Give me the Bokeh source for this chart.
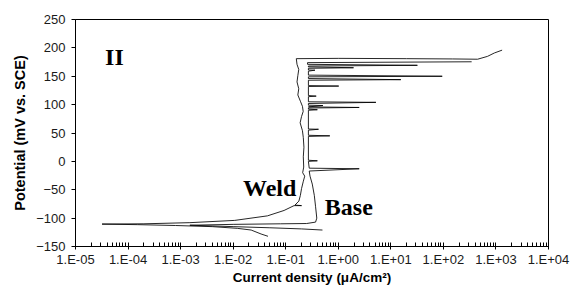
from bokeh.plotting import figure
from bokeh.models import FixedTicker, CustomJSTickFormatter, Range1d, Label
from bokeh.embed import file_html
from bokeh.resources import INLINE

# ---- data ----
weld_current = [0.046, 0.034, 0.022, 0.012, 0.004, 8e-4, 1.5e-4, 3.2e-5, 2e-4, 1.5e-3,
                0.0107, 0.045, 0.093, 0.144, 0.2, 0.15, 0.178, 0.19, 0.2, 0.215,
                0.23, 0.21, 0.22, 0.216, 0.222, 0.216, 0.208, 0.188, 0.2, 0.215,
                0.208, 0.192, 0.17, 0.177, 0.164, 0.17, 0.177, 0.164, 0.159, 1.0,
                20, 150, 447, 690, 934, 1310]
weld_potential = [-132, -128, -121, -118, -115, -113, -111.5, -110.5, -110, -108,
                  -104, -96, -86.5, -78, -78, -77, -70, -60, -48, -36,
                  -26, -20, -10, 8, 25, 42, 54, 68, 79, 88,
                  97, 105, 117, 128, 140, 151, 162, 171, 181, 181.5,
                  181, 180.5, 180, 185, 191, 196]

base_current = [0.5, 0.2, 0.05, 0.01, 1.5e-3, 0.01, 0.08, 0.25, 0.37, 0.39,
                0.37, 0.35, 0.32, 0.29, 0.28, 2.5, 0.28, 0.27, 0.4, 0.27,
                0.27, 0.69, 0.27, 0.27, 0.42, 0.27, 0.27, 0.4, 0.27, 0.27,
                2.5, 0.27, 0.51, 0.27, 0.27, 5.2, 0.27, 0.27, 0.38, 0.27,
                0.27, 1.02, 0.27, 0.27, 15.5, 0.27, 0.27, 95, 0.27, 0.27,
                0.36, 0.27, 0.27, 1.95, 0.27, 0.27, 32, 0.26, 0.26, 345]
base_potential = [-121, -119, -117, -115, -112.5, -111, -110, -109.5, -107, -100,
                  -80, -60, -40, -26, -17, -13, -12, 0, 1, 2,
                  44, 45, 46, 55, 56.6, 57, 90, 91, 92, 94,
                  95, 96, 98.4, 99, 102, 104, 105, 114, 115, 116,
                  132, 132.7, 133.5, 143, 144, 146, 149, 150, 152, 159,
                  160.7, 161, 164, 165, 166.5, 168, 169.3, 171, 174, 175.5]

x_decades = [1e-5, 1e-4, 1e-3, 1e-2, 1e-1, 1e0, 1e1, 1e2, 1e3, 1e4]
y_ticks = [-150, -100, -50, 0, 50, 100, 150, 200, 250]

x_title = "Current density (\u03bcA/cm\u00b2)"
y_title = "Potential (mV vs. SCE)"

minor_x = [m * d for d in x_decades[:-1] for m in range(2, 10)]

p = figure(width=570, height=287, x_axis_type="log",
           x_range=Range1d(1e-5, 1e4), y_range=Range1d(-150, 250),
           output_backend="svg", toolbar_location=None,
           min_border_left=75, min_border_right=22, min_border_top=19, min_border_bottom=40)

p.background_fill_color = "white"
p.border_fill_color = "white"
p.outline_line_color = "black"
p.outline_line_width = 1
p.grid.visible = False

p.line(weld_current, weld_potential, line_color="black", line_width=1, line_alpha=0.85)
p.line(base_current, base_potential, line_color="black", line_width=1, line_alpha=0.85)

# x axis
xa = p.xaxis[0]
xa.ticker = FixedTicker(ticks=x_decades, minor_ticks=minor_x)
xa.formatter = CustomJSTickFormatter(code="""
const e = Math.round(Math.log10(tick));
const s = e < 0 ? "-" : "+";
return "1.E" + s + String(Math.abs(e)).padStart(2, "0");
""")
xa.major_tick_in = 4
xa.major_tick_out = 3
xa.minor_tick_in = 4
xa.minor_tick_out = 0
xa.major_label_text_font = "Liberation Sans"
xa.major_label_text_font_size = "13px"
xa.major_label_text_color = "#1a1a1a"
xa.major_label_standoff = 2
xa.axis_label = x_title
xa.axis_label_text_font = "Liberation Sans"
xa.axis_label_text_font_style = "bold"
xa.axis_label_text_font_size = "13.5px"
xa.axis_label_text_color = "black"
xa.axis_label_standoff = 0
xa.axis_line_color = "black"

# y axis
ya = p.yaxis[0]
ya.ticker = FixedTicker(ticks=y_ticks)
ya.major_tick_in = 0
ya.major_tick_out = 4
ya.minor_tick_in = 0
ya.minor_tick_out = 0
ya.major_label_text_font = "Liberation Sans"
ya.major_label_text_font_size = "13px"
ya.major_label_text_color = "#1a1a1a"
ya.major_label_standoff = 6
ya.axis_label = y_title
ya.axis_label_text_font = "Liberation Sans"
ya.axis_label_text_font_style = "bold"
ya.axis_label_text_font_size = "14.5px"
ya.axis_label_text_color = "black"
ya.axis_label_standoff = 5
ya.axis_line_color = "black"

for txt, xv, yv in [("II", 3.65e-5, 184.8), ("Weld", 0.0154, -47), ("Base", 0.555, -79.6)]:
    p.add_layout(Label(x=xv, y=yv, text=txt, text_font="Liberation Serif",
                       text_font_style="bold", text_font_size="24px",
                       text_color="black", text_baseline="alphabetic"))

open("out.html", "w").write(file_html(p, INLINE))
